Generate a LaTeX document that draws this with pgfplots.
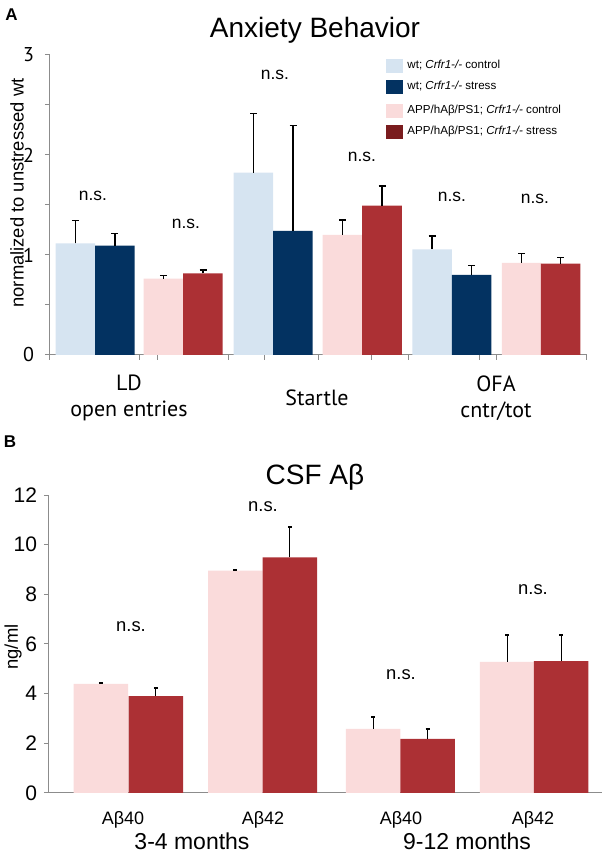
\documentclass[border=0pt]{standalone}
\usepackage{fontspec}
\setmainfont{Liberation Sans}
\newfontfamily\ptsans{PT Sans}
\usepackage{pgfplots}
\pgfplotsset{compat=1.18}
\definecolor{wtc}{RGB}{214,228,241}
\definecolor{wts}{RGB}{3,50,97}
\definecolor{appc}{RGB}{250,219,219}
\definecolor{apps}{RGB}{172,48,52}
\definecolor{appsleg}{RGB}{122,28,30}
\definecolor{axgray}{RGB}{140,140,140}
\pgfplotsset{
  legsq/.style={legend image code/.code={\fill[##1] (0pt,-3.5pt) rectangle (8.5pt,3.5pt);}},
  legsqgap/.style={legend image code/.code={\fill[##1] (0pt,-3.5pt) rectangle (8.5pt,3.5pt); \path (0pt,7pt);}},
}
\begin{document}
\begin{tikzpicture}
\useasboundingbox (0,0) rectangle (301pt,426.5pt);
% ---------------- Panel A
\begin{axis}[
  at={(25pt,249pt)}, anchor=south west, scale only axis,
  width=268.5pt, height=150pt,
  xmin=50, xmax=587, ymin=0, ymax=3,
  axis lines=left, axis line style={-, axgray, line width=0.5pt},
  ytick={0,1,2,3}, minor ytick={0.5,1.5,2.5},
  xtick={50,140,158,229,264.5,319,372,408,479,496.5,586.5}, xticklabels={},
  tick style={axgray, line width=0.5pt}, tick align=outside,
  major tick length=2.5pt, minor tick length=2.5pt,
  yticklabel style={font=\ptsans\fontsize{10}{12}\selectfont, text=black, xshift=-2pt},
  /pgf/number format/assume math mode=true,
  ylabel={normalized to unstressed wt},
  every axis y label/.style={at={(rel axis cs:-0.0615,0.54)}, rotate=90, anchor=center, font=\fontsize{9.2}{11}\selectfont},
  ybar, bar shift=0pt, bar width=39.5,
  clip=false,
  legend style={at={(axis cs:386,2.99)}, anchor=north west, draw=none, fill=none,
    font=\fontsize{5.8}{7}\selectfont, row sep=0.5pt, inner sep=0pt,
    cells={anchor=west}},
  error bars/y dir=plus, error bars/y explicit,
  error bars/error bar style={black, line width=0.75pt},
  error bars/error mark options={rotate=90, black, line width=0.75pt, mark size=1.75pt},
]
\addlegendimage{legsq, fill=wtc, draw=none}
\addlegendentry{wt; \textit{Crfr1-/-} control}
\addlegendimage{legsq, fill=wts, draw=none}
\addlegendentry{wt; \textit{Crfr1-/-} stress}
\addlegendimage{legsqgap, fill=appc, draw=none}
\addlegendentry{APP/hAβ/PS1; \textit{Crfr1-/-} control}
\addlegendimage{legsq, fill=appsleg, draw=none}
\addlegendentry{APP/hAβ/PS1; \textit{Crfr1-/-} stress}
\addplot[fill=wtc, draw=none, forget plot] table[x=x, y=y, y error=e] {
x y e
75.5 1.117 0.226
253.5 1.823 0.594
432 1.057 0.133
};
\addplot[fill=wts, draw=none, forget plot] table[x=x, y=y, y error=e] {
x y e
115 1.093 0.120
293 1.240 1.053
471.5 0.800 0.093
};
\addplot[fill=appc, draw=none, forget plot] table[x=x, y=y, y error=e] {
x y e
163.5 0.763 0.030
342.5 1.200 0.150
521.5 0.920 0.097
};
\addplot[fill=apps, draw=none, forget plot] table[x=x, y=y, y error=e] {
x y e
203 0.817 0.033
382 1.493 0.197
560.5 0.913 0.060
};
\begin{scope}[font=\fontsize{8.7}{10}\selectfont]
\node at (axis cs:93,1.59) {n.s.};
\node at (axis cs:186,1.31) {n.s.};
\node at (axis cs:275,2.80) {n.s.};
\node at (axis cs:362,1.98) {n.s.};
\node at (axis cs:452,1.58) {n.s.};
\node at (axis cs:535,1.56) {n.s.};
\end{scope}
\begin{scope}[font=\ptsans\fontsize{11}{13}\selectfont, align=center]
\node at (axis cs:129,-0.43) {LD\\open entries};
\node at (axis cs:317,-0.43) {Startle};
\node at (axis cs:496,-0.43) {OFA\\cntr/tot};
\end{scope}
\node[font=\fontsize{14}{16}\selectfont] at (axis cs:315,3.25) {Anxiety Behavior};
\node[font=\bfseries\fontsize{8.5}{10}\selectfont] at (axis cs:11.5,3.40) {A};
\end{axis}
% ---------------- Panel B
\begin{axis}[
  at={(24.5pt,30pt)}, anchor=south west, scale only axis,
  width=276.5pt, height=149pt,
  xmin=49, xmax=602, ymin=0, ymax=12,
  axis lines=left, axis line style={-, axgray, line width=0.5pt},
  ytick={0,2,4,6,8,10,12},
  xtick={123,263,401,533}, xticklabels={Aβ40,Aβ42,Aβ40,Aβ42},
  x tick style={draw=none}, y tick style={axgray, line width=0.5pt},
  tick align=outside, major tick length=2.5pt,
  yticklabel style={font=\fontsize{10.5}{12}\selectfont, text=black},
  xticklabel style={font=\fontsize{9}{11}\selectfont, text=black, yshift=-3pt},
  /pgf/number format/assume math mode=true,
  ylabel={ng/ml},
  every axis y label/.style={at={(rel axis cs:-0.065,0.49)}, rotate=90, anchor=center, font=\fontsize{9.2}{11}\selectfont},
  ybar, bar shift=0pt, bar width=54.5,
  clip=false,
  error bars/y dir=plus, error bars/y explicit,
  error bars/error bar style={black, line width=0.5pt},
  error bars/error mark options={rotate=90, black, line width=0.9pt, mark size=1pt},
]
\addplot[fill=appc, draw=none] table[x=x, y=y, y error=e] {
x y e
101 4.39 0.03
235.5 8.95 0.02
373 2.58 0.48
507 5.28 1.07
};
\addplot[fill=apps, draw=none] table[x=x, y=y, y error=e] {
x y e
156 3.90 0.33
290 9.49 1.21
427.5 2.18 0.40
561 5.31 1.04
};
\begin{scope}[font=\fontsize{9.2}{11}\selectfont]
\node at (axis cs:131,6.69) {n.s.};
\node at (axis cs:263,11.52) {n.s.};
\node at (axis cs:401,4.75) {n.s.};
\node at (axis cs:533,8.18) {n.s.};
\end{scope}
\node[font=\fontsize{11.5}{13}\selectfont] at (axis cs:192,-1.95) {3-4 months};
\node[font=\fontsize{11.5}{13}\selectfont] at (axis cs:467,-1.95) {9-12 months};
\node[font=\fontsize{14}{16}\selectfont] at (axis cs:315,12.73) {CSF Aβ};
\node[font=\bfseries\fontsize{8.5}{10}\selectfont] at (axis cs:10,14.14) {B};
\end{axis}
\end{tikzpicture}
\end{document}
